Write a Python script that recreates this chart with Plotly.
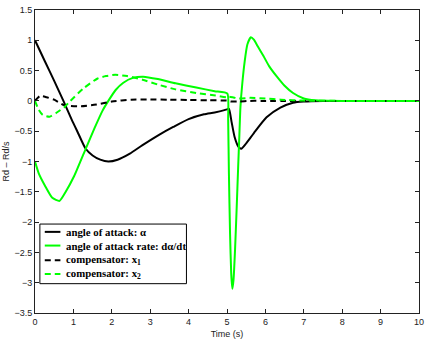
import plotly.graph_objects as go

# angle of attack (alpha)
t_alpha = [0, 0.26, 0.5, 0.74, 0.95, 1.1, 1.32, 1.5, 1.7, 1.91, 2.15, 2.47, 2.8, 3.23, 3.6, 4.0, 4.4, 4.68,
           5.0, 5.05, 5.12, 5.2, 5.3, 5.37, 5.5, 5.7, 6.03, 6.39, 6.72, 7.0, 7.5, 10]
alpha = [1.0, 0.65, 0.33, 0.0, -0.3, -0.5, -0.79, -0.9, -0.97, -1.0, -0.97, -0.87, -0.73, -0.56, -0.43, -0.3, -0.22, -0.19,
         -0.14, -0.13, -0.35, -0.6, -0.76, -0.79, -0.7, -0.53, -0.27, -0.11, -0.03, -0.01, 0.0, 0.0]

# angle of attack rate (dalpha/dt)
t_rate = [0, 0.1, 0.26, 0.45, 0.64, 0.8, 1.02, 1.32, 1.55, 1.76, 1.91, 2.1, 2.3, 2.55, 2.82, 3.2, 3.66, 4.2, 4.68,
          5.01, 5.03, 5.05, 5.08, 5.11, 5.14, 5.17, 5.21, 5.25, 5.29, 5.32, 5.35, 5.4, 5.46, 5.53, 5.62, 5.7, 5.8,
          5.95, 6.1, 6.3, 6.5, 6.72, 7.0, 7.3, 8.0, 10]
rate = [-1.0, -1.2, -1.4, -1.6, -1.65, -1.5, -1.24, -0.79, -0.45, -0.16, 0.0, 0.18, 0.3, 0.38, 0.40, 0.36, 0.29, 0.22, 0.16,
        0.12, -0.3, -1.2, -2.2, -2.85, -3.1, -2.95, -2.45, -1.8, -1.1, -0.6, -0.1, 0.3, 0.65, 0.93, 1.05, 1.01, 0.9,
        0.74, 0.57, 0.4, 0.25, 0.13, 0.04, 0.01, 0.0, 0.0]

# compensator x1
t_x1 = [0, 0.13, 0.3, 0.5, 0.76, 1.2, 1.6, 2.0, 2.5, 3.0, 3.5, 4.0, 4.5, 5.0, 5.1, 5.3, 5.6, 6.0, 10]
x1 = [0.0, 0.08, 0.06, 0.02, -0.07, -0.09, -0.06, -0.01, 0.02, 0.025, 0.02, 0.015, 0.01, 0.005, -0.01, -0.01, 0.0, 0.0, 0.0]

# compensator x2
t_x2 = [0, 0.1, 0.2, 0.38, 0.55, 0.77, 0.92, 1.27, 1.63, 1.85, 2.09, 2.4, 2.8, 3.2, 3.66, 4.2, 4.7, 5.0, 5.05,
        5.15, 5.3, 5.6, 6.0, 6.4, 7.0, 8.0, 10]
x2 = [0.0, -0.15, -0.23, -0.26, -0.2, -0.1, 0.0, 0.21, 0.37, 0.41, 0.43, 0.41, 0.35, 0.27, 0.19, 0.13, 0.09, 0.06, 0.07,
      0.06, 0.04, 0.05, 0.04, 0.02, 0.005, 0.0, 0.0]

names = ["angle of attack: α", "angle of attack rate: dα/dt",
         "compensator: x<sub>1</sub>", "compensator: x<sub>2</sub>"]

GREEN = "#00ff00"
DASH = "6px,4px"
styles = [("black", "solid"), (GREEN, "solid"), ("black", DASH), (GREEN, DASH)]
series = [(t_alpha, alpha), (t_rate, rate), (t_x1, x1), (t_x2, x2)]
smooth = [0.6, 0.5, 0.6, 0.6]

fig = go.Figure()
for (tx, ty), (col, dash), nm, sm in zip(series, styles, names, smooth):
    fig.add_trace(go.Scatter(x=tx, y=ty, mode="lines", name=nm, showlegend=False,
                             line=dict(color=col, width=2, dash=dash, shape="spline", smoothing=sm)))

# compact MATLAB-style legend built from shapes + annotations (paper coords)
L, R, B, T = 31, 424, 317, 7   # plot-area pixel edges
def px(x): return (x - L) / (R - L)
def py(y): return (B - y) / (B - T)

shapes = [dict(type="rect", xref="paper", yref="paper", x0=px(36), x1=px(186), y0=py(287), y1=py(226),
               line=dict(color="black", width=1), fillcolor="white", layer="above")]
annotations = []
line_y = [234, 248, 263, 277]
text_y = [234, 248, 263, 277]
for (col, dash), nm, ly, tyy in zip(styles, names, line_y, text_y):
    shapes.append(dict(type="line", xref="paper", yref="paper", x0=px(41), x1=px(57), y0=py(ly), y1=py(ly),
                       line=dict(color=col, width=2, dash=dash), layer="above"))
    annotations.append(dict(xref="paper", yref="paper", x=px(61), y=py(tyy), xanchor="left", yanchor="middle",
                            text=nm, showarrow=False,
                            font=dict(family="Liberation Serif, Times New Roman", size=10.8, color="black",
                                      weight="bold")))

axis_common = dict(showline=True, linecolor="#222", linewidth=1, mirror="ticks", ticks="inside",
                   ticklen=4, tickcolor="#222", showgrid=False, zeroline=False,
                   tickfont=dict(family="Liberation Sans, Arial", size=9, color="#222"))

fig.update_layout(
    width=429, height=342,
    margin=dict(l=31, r=5, t=7, b=25),
    paper_bgcolor="white", plot_bgcolor="white",
    xaxis=dict(range=[0, 10], tickvals=list(range(0, 11)),
               title=dict(text="Time (s)", font=dict(family="Liberation Sans, Arial", size=9, color="#222"),
                          standoff=4),
               **axis_common),
    yaxis=dict(range=[-3.5, 1.5], tickvals=[1.5, 1, 0.5, 0, -0.5, -1, -1.5, -2, -2.5, -3, -3.5],
               ticktext=["1.5", "1", "0.5", "0", "−0.5", "−1", "−1.5", "−2", "−2.5", "−3", "−3.5"],
               title=dict(text="Rd – Rd/s", font=dict(family="Liberation Sans, Arial", size=9, color="#222"),
                          standoff=3),
               **axis_common),
    shapes=shapes,
    annotations=annotations,
    showlegend=False,
)

fig.write_html("out.html")
